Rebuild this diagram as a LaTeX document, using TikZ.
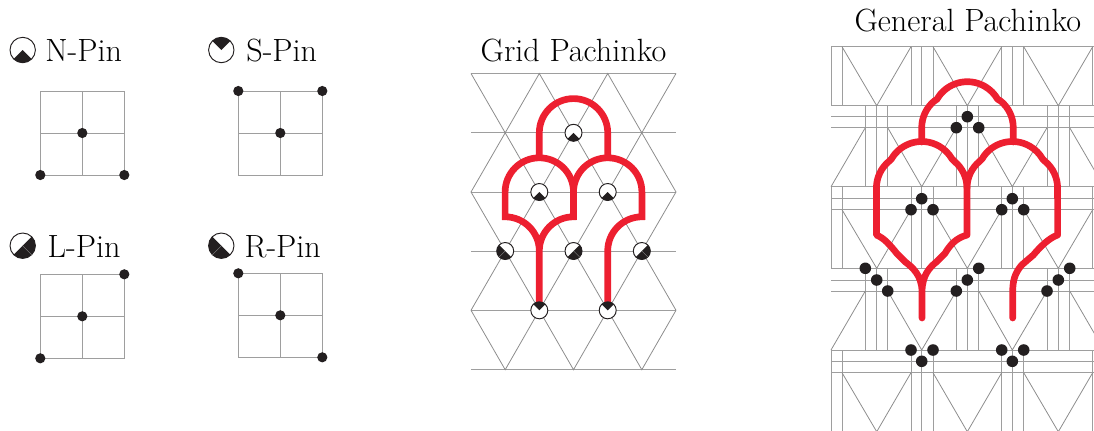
\documentclass[tikz,border=0pt]{standalone}
\definecolor{pathred}{RGB}{237, 31, 48}
\definecolor{pinblack}{RGB}{35, 31, 32}
\usetikzlibrary{positioning}

\newcommand{\pinicon}[5]{% x, y, radius, start and end of the black sector
  \fill[white] (#1,#2) circle[radius=#3];
  \fill[pinblack] (#1,#2) -- ++(#4:#3) arc[start angle=#4, end angle=#5, radius=#3] -- cycle;
  \draw[pinblack, line width=0.55pt] (#1,#2) circle[radius=#3];
}
\newcommand{\pinseam}[4]{% x, y, radius, angle
  \draw[black!45, line width=0.2pt] (#1,#2) -- ++(#4:#3);
}

\begin{document}
\begin{tikzpicture}[
  x=0.02cm, y=-0.02cm,
  gridline/.style={draw=black!38, line width=0.55pt},
  thinline/.style={draw=black!45, line width=0.45pt},
  pathline/.style={draw=pathred, line width=3.8pt},
  pindot/.style={circle, fill=pinblack, inner sep=0pt, minimum size=5.8pt},
  bigdot/.style={circle, fill=pinblack, inner sep=0pt, minimum size=6.6pt},
  pinlabel/.style={anchor=base west, inner sep=0pt, font=\fontsize{18.3}{22}\selectfont},
  picttitle/.style={anchor=base, inner sep=0pt, font=\fontsize{18.3}{22}\selectfont}
]
  \useasboundingbox (0,0) rectangle (1094,430);

  % pin legend
  \pinicon{22.7}{50}{12.7}{45}{135}
  \node[pinlabel] (nlabel) at (45,61.7) {N-Pin};
  \pinicon{221.3}{50}{12.7}{225}{315}
  \node[pinlabel] (slabel) at (246,61.7) {S-Pin};
  \pinicon{22.7}{245.7}{12.7}{-45}{135}
  \pinseam{22.7}{245.7}{12.7}{45}
  \node[pinlabel] (llabel) at (47.3,257.7) {L-Pin};
  \pinicon{221.3}{245.7}{12.7}{45}{225}
  \pinseam{221.3}{245.7}{12.7}{135}
  \node[pinlabel] (rlabel) at (244.3,257.7) {R-Pin};

  \foreach \bx/\by [count=\bi] in {40.3/91, 238.3/91, 40.3/274.3, 238.3/273.3} {
    \draw[gridline] (\bx,\by) rectangle ++(84,84);
    \draw[gridline] (\bx+42,\by) -- ++(0,84);
    \draw[gridline] (\bx,\by+42) -- ++(84,0);
    \node[pindot] (mid\bi) at (\bx+42,\by+42) {};
  }
  \node[pindot] (na) at (40.3,175) {};
  \node[pindot] (nb) at (124.3,175) {};
  \node[pindot] (sa) at (238.3,91) {};
  \node[pindot] (sb) at (322.3,91) {};
  \node[pindot] (la) at (40.3,358.3) {};
  \node[pindot] (lb) at (124.3,274.3) {};
  \node[pindot] (ra) at (238.3,273.3) {};
  \node[pindot] (rb) at (322.3,357.3) {};

  % grid pachinko
  \node[picttitle] (gridtitle) at (573.5,61.7) {Grid Pachinko};
  \foreach \ly in {73.5,132.8,192,251,310.3,369.7}
    \draw[gridline] (471,\ly) -- (676,\ly);
  \foreach \ya/\yb in {73.5/132.8, 192/132.8, 192/251, 310.3/251, 310.3/369.7} {
    \draw[thinline] (471,\ya) -- (505.2,\yb) -- (539.3,\ya) -- (573.5,\yb) -- (607.7,\ya) -- (641.8,\yb) -- (676,\ya);
  }
  \draw[pathline] (539.3,160) -- (539.3,132.8) arc[start angle=180, end angle=360, radius=34.2] -- (607.7,160);
  \draw[pathline] (539.3,305) -- (539.3,251) arc[start angle=0, end angle=-90, radius=34.2]
    -- (505.1,192) arc[start angle=180, end angle=360, radius=34.2]
    -- (573.5,216.8) arc[start angle=-90, end angle=-180, radius=34.2] -- cycle;
  \draw[pathline] (607.7,305) -- (607.7,251) arc[start angle=180, end angle=270, radius=34.2]
    -- (641.9,192) arc[start angle=360, end angle=180, radius=34.2] -- (573.5,200);
  \pinicon{573.5}{132.8}{8.5}{45}{135}
  \foreach \px in {539.3,607.7} {
    \pinicon{\px}{192}{8.5}{45}{135}
    \pinicon{\px}{310.3}{8.5}{225}{315}
  }
  \pinicon{505.2}{251}{8.5}{45}{225}
  \pinseam{505.2}{251}{8.5}{135}
  \foreach \px in {573.5,641.8} {
    \pinicon{\px}{251}{8.5}{-45}{135}
    \pinseam{\px}{251}{8.5}{45}
  }

  % general pachinko
  \node[picttitle] (gentitle) at (967.8,31.7) {General Pachinko};
  \begin{scope}
    \clip (830.5,40) rectangle (1094,430);
    \foreach \ly in {46.7,105.7,116.7,127.7,186.7,198.7,209.7,268.3,280,291,350,361.3,372.7}
      \draw[gridline] (831,\ly) -- (1094,\ly);
    \foreach \ya/\yb/\yv in {46.7/105.7/46.7, 186.7/268.3/209.7, 350/431.7/372.7} {
      \foreach \vx in {831,842,911,921.7,933,1001.7,1012.3,1023.7,1092.7}
        \draw[gridline] (\vx,\ya) -- (\vx,\yb);
      \foreach \xa/\xm/\xb in {842/876.7/911, 933/967.3/1001.7, 1023.7/1058.3/1092.7}
        \draw[thinline] (\xa,\yv) -- (\xm,\yb) -- (\xb,\yv);
    }
    \foreach \ya/\yb/\yv in {105.7/186.7/127.7, 268.3/350/291} {
      \foreach \vx in {865.3,876.7,887.7,956.3,967.3,978.7,1047,1058.3,1069.7}
        \draw[gridline] (\vx,\ya) -- (\vx,\yb);
      \draw[thinline] (865.3,\yv) -- (831,\yb);
      \draw[thinline] (887.7,\yv) -- (921.7,\yb) -- (956.3,\yv);
      \draw[thinline] (978.7,\yv) -- (1012.3,\yb) -- (1047,\yv);
      \draw[thinline] (1069.7,\yv) -- (1104,\yb);
    }
  \end{scope}
  \foreach \dx/\dy [count=\di] in {967.3/116.7, 956.3/127.7, 978.7/127.7,
      921.7/198.7, 911/209.7, 933/209.7, 1012.3/198.7, 1001.7/209.7, 1023.7/209.7,
      865.3/268.3, 876.7/280, 887.7/291, 978.7/268.3, 967.3/280, 956.3/291,
      1069.7/268.3, 1058.3/280, 1047/291,
      911/350, 933/350, 921.7/361.3, 1001.7/350, 1023.7/350, 1012.3/361.3}
    \node[bigdot] (d\di) at (\dx,\dy) {};

  \begin{scope}[pathline, line cap=round, line join=round]
    \draw (921.7,142) -- (921.7,127.7) arc[start angle=180, end angle=230, radius=34.6]
      -- (937,99.2) arc[start angle=210, end angle=330, radius=35]
      -- (1000.9,101.2) arc[start angle=310, end angle=360, radius=34.6] -- (1013.3,142);
    \draw (922,318) -- (922,292) .. controls (922,275) and (912,267) .. (905,261.7)
      -- (896.7,253.3) .. controls (890,245) and (884,238) .. (876.4,235)
      -- (876.4,188) arc[start angle=180, end angle=230, radius=34.6]
      -- (891.4,159) arc[start angle=210, end angle=330, radius=35]
      -- (954.6,161.5) arc[start angle=310, end angle=360, radius=34.6]
      -- (967,235) .. controls (956,238) and (950,245) .. (945,253.3)
      -- (936.7,261.7) .. controls (930,267) and (922,275) .. (922,292);
    \draw (967,188) arc[start angle=180, end angle=230, radius=34.6]
      -- (982,159) arc[start angle=210, end angle=330, radius=35]
      -- (1045.2,161.5) arc[start angle=310, end angle=360, radius=34.6]
      -- (1057.6,235) .. controls (1049,238) and (1040,247) .. (1033.3,255)
      -- (1021.7,265) .. controls (1015,273) and (1012.7,280) .. (1012.7,292) -- (1012.7,318);
  \end{scope}
\end{tikzpicture}
\end{document}
